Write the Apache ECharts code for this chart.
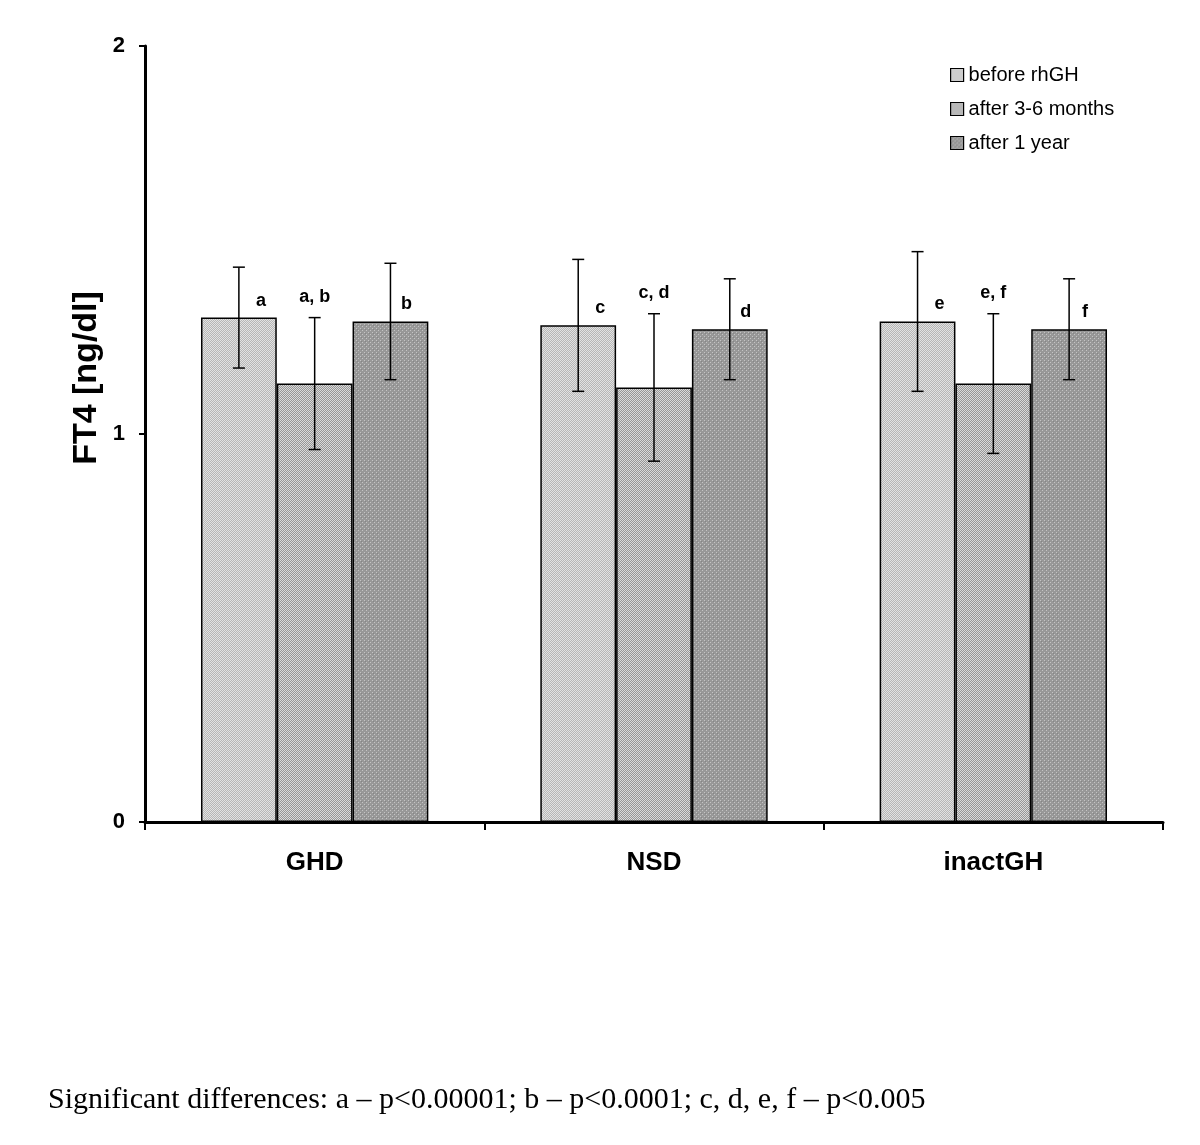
<!DOCTYPE html>
<html>
<head>
<meta charset="utf-8">
<script src="https://cdn.jsdelivr.net/npm/echarts@6/dist/echarts.min.js"></script>
<style>html,body{margin:0;padding:0;background:#fff}#chart{width:1200px;height:1145px}</style>
</head>
<body>
<div id="chart"></div>
<script>
var categories = ['GHD', 'NSD', 'inactGH'];
var seriesNames = ['before rhGH', 'after 3-6 months', 'after 1 year'];
var before = [1.30, 1.28, 1.29];
var after36 = [1.13, 1.12, 1.13];
var after1y = [1.29, 1.27, 1.27];
var beforeSD = [0.13, 0.17, 0.18];
var after36SD = [0.17, 0.19, 0.18];
var after1ySD = [0.15, 0.13, 0.13];
var sigBefore = ['a', 'c', 'e'];
var sig36 = ['a, b', 'c, d', 'e, f'];
var sig1y = ['b', 'd', 'f'];
var yTicks = [0, 1, 2];
var yTitle = 'FT4 [ng/dl]';
var footnote = 'Significant differences: a \u2013 p<0.00001; b \u2013 p<0.0001; c, d, e, f \u2013 p<0.005';

function makePattern(type) {
  var c = document.createElement('canvas');
  c.width = 4; c.height = 4;
  var g = c.getContext('2d');
  if (type === 0) {
    for (var y = 0; y < 4; y++) for (var x = 0; x < 4; x++) {
      g.fillStyle = ((x + y) % 2 === 0) ? '#e2e2e2' : '#b6b6b6';
      g.fillRect(x, y, 1, 1);
    }
  } else if (type === 1) {
    for (var y = 0; y < 4; y++) for (var x = 0; x < 4; x++) {
      g.fillStyle = ((x + y) % 2 === 0) ? '#dadada' : '#969696';
      g.fillRect(x, y, 1, 1);
    }
  } else {
    g.fillStyle = '#989898'; g.fillRect(0, 0, 4, 4);
    g.fillStyle = '#c4c4c4'; g.fillRect(0, 0, 1, 1); g.fillRect(2, 2, 1, 1);
    g.fillStyle = '#868686'; g.fillRect(1, 1, 1, 1);
  }
  return { image: c, repeat: 'repeat' };
}
var fills = [makePattern(0), makePattern(1), makePattern(2)];
var values = [before, after36, after1y];
var sds = [beforeSD, after36SD, after1ySD];
var sigs = [sigBefore, sig36, sig1y];
var gapRatio = 0.33;

var chart = echarts.init(document.getElementById('chart'), null, { renderer: 'canvas' });

var barSeries = seriesNames.map(function (n, i) {
  return {
    name: n, type: 'bar', data: values[i],
    barGap: '0%', barCategoryGap: (gapRatio * 100) + '%',
    itemStyle: { color: fills[i], borderColor: '#000', borderWidth: 1.5 },
    emphasis: { disabled: true }, z: 2
  };
});

var errData = [];
for (var s = 0; s < 3; s++) for (var k = 0; k < categories.length; k++) {
  errData.push([k, values[s][k], sds[s][k], s]);
}

var errSeries = {
  type: 'custom', name: 'err', z: 5,
  data: errData,
  encode: { x: 0, y: 1 },
  renderItem: function (params, api) {
    var k = api.value(0), v = api.value(1), sd = api.value(2), s = api.value(3);
    var center = api.coord([k, v]);
    var band = api.size([1, 0])[0];
    var bw = band * (1 - gapRatio) / 3;
    var x = center[0] + (s - 1) * bw;
    var top = api.coord([k, v + sd])[1];
    var bot = api.coord([k, v - sd])[1];
    var barTop = center[1];
    var cap = 6;
    var st = { stroke: '#000', lineWidth: 1.5 };
    var label = sigs[s][k];
    var tx, ty;
    if (s === 1) { tx = x; ty = top - 21; }
    else { tx = x + (s === 0 ? 22 : 16); ty = barTop - 17; }
    return {
      type: 'group',
      children: [
        { type: 'line', shape: { x1: x, y1: top, x2: x, y2: bot }, style: st },
        { type: 'line', shape: { x1: x - cap, y1: top, x2: x + cap, y2: top }, style: st },
        { type: 'line', shape: { x1: x - cap, y1: bot, x2: x + cap, y2: bot }, style: st },
        { type: 'text', x: tx, y: ty, style: { text: label, fill: '#000', font: 'bold 18px "Liberation Sans", Arial, sans-serif', align: 'center', verticalAlign: 'middle' } }
      ]
    };
  }
};

chart.setOption({
  animation: false,
  backgroundColor: '#fff',
  title: {
    text: footnote, left: 43, top: 1080,
    textStyle: { fontFamily: '"Liberation Serif", "Times New Roman", serif', fontWeight: 'normal', fontSize: 30, color: '#000' }
  },
  graphic: [{
    type: 'text', x: 87, y: 378, rotation: Math.PI / 2,
    style: { text: yTitle, fill: '#000', font: 'bold 34px "Liberation Sans", Arial, sans-serif', align: 'center', verticalAlign: 'middle' }
  }],
  legend: {
    data: seriesNames, orient: 'vertical', left: 945, top: 60,
    itemWidth: 13, itemHeight: 13, itemGap: 14,
    icon: 'rect',
    itemStyle: { borderColor: '#000', borderWidth: 1.2 },
    textStyle: { fontFamily: '"Liberation Sans", Arial, sans-serif', fontSize: 20, color: '#000' },
    selectedMode: false
  },
  grid: { left: 145, right: 37, top: 46, bottom: 323, containLabel: false },
  xAxis: {
    type: 'category', data: categories,
    axisLine: { lineStyle: { color: '#000', width: 3 } },
    axisTick: { show: true, length: 8, lineStyle: { color: '#000', width: 2 } },
    axisLabel: { margin: 28, color: '#000', fontFamily: '"Liberation Sans", Arial, sans-serif', fontWeight: 'bold', fontSize: 26 }
  },
  yAxis: {
    type: 'value', min: yTicks[0], max: yTicks[yTicks.length - 1], interval: 1,
    axisLine: { show: true, lineStyle: { color: '#000', width: 3 } },
    axisTick: { show: true, length: 6, lineStyle: { color: '#000', width: 2 } },
    splitLine: { show: false },
    axisLabel: { margin: 20, color: '#000', fontFamily: '"Liberation Sans", Arial, sans-serif', fontWeight: 'bold', fontSize: 22 }
  },
  series: barSeries.concat([errSeries])
});
</script>
</body>
</html>
